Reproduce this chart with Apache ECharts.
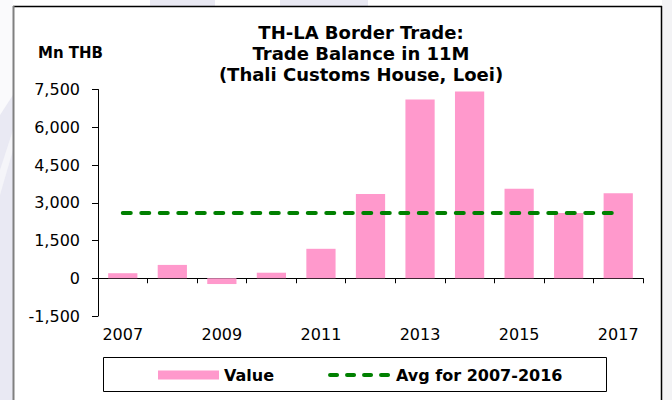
<!DOCTYPE html>
<html>
<head>
<meta charset="utf-8">
<script src="https://cdn.jsdelivr.net/npm/echarts@6/dist/echarts.min.js"></script>
<style>
  html, body { margin: 0; padding: 0; background: #ffffff; }
  #chart { width: 672px; height: 400px; }
</style>
</head>
<body>
<div id="chart"></div>
<script>
// Years on the category axis
const years = ['2007', '2008', '2009', '2010', '2011', '2012', '2013', '2014', '2015', '2016', '2017'];
// Trade balance, Mn THB
const tradeBalance = [200, 530, -230, 220, 1170, 3350, 7100, 7420, 3560, 2590, 3380];
// Average for 2007-2016, drawn flat across every year
const avgLevel = [2590, 2590, 2590, 2590, 2590, 2590, 2590, 2590, 2590, 2590, 2590];
// Value axis range and step
const yMin = -1500;
const yMax = 7500;
const yStep = 1500;

const titleLines = ['TH-LA Border Trade:', 'Trade Balance in 11M', '(Thali Customs House, Loei)'];
const unitLabel = 'Mn THB';
const seriesNames = ['Value', 'Avg for 2007-2016'];

const FONT = "'DejaVu Sans', 'Liberation Sans', Arial, sans-serif";

const chart = echarts.init(document.getElementById('chart'), null, { renderer: 'svg' });

chart.setOption({
  animation: false,
  backgroundColor: '#ffffff',
  textStyle: { fontFamily: FONT, color: '#000000' },
  grid: { left: 98, right: 29, top: 89.5, bottom: 84, containLabel: false },
  xAxis: {
    type: 'category',
    data: years,
    boundaryGap: true,
    axisLine: { show: true, onZero: true, lineStyle: { color: '#000000', width: 1 } },
    axisTick: { show: true, interval: 0, length: 5, inside: false, lineStyle: { color: '#000000' } },
    axisLabel: {
      interval: 1,
      margin: 10,
      fontSize: 16,
      fontFamily: FONT,
      color: '#000000'
    },
    splitLine: { show: false }
  },
  yAxis: {
    type: 'value',
    min: yMin,
    max: yMax,
    interval: yStep,
    axisLine: { show: true, lineStyle: { color: '#000000', width: 1 } },
    axisTick: { show: true, length: 6, lineStyle: { color: '#000000' } },
    axisLabel: {
      margin: 18,
      fontSize: 16,
      fontFamily: FONT,
      color: '#000000',
      formatter: v => v.toLocaleString('en-US')
    },
    splitLine: { show: false }
  },
  legend: {
    left: 158,
    top: 367,
    padding: 0,
    itemWidth: 61,
    itemHeight: 9,
    itemGap: 54,
    textStyle: { fontSize: 16, fontWeight: 'bold', fontFamily: FONT, color: '#000000' },
    data: [
      { name: seriesNames[0], icon: 'rect' },
      {
        name: seriesNames[1],
        itemStyle: { color: 'rgba(0,0,0,0)', borderWidth: 0 },
        lineStyle: { color: '#008000', width: 4, type: [7, 10], cap: 'round' }
      }
    ]
  },
  series: [
    {
      name: seriesNames[0],
      type: 'bar',
      data: tradeBalance,
      barWidth: '59%',
      itemStyle: { color: '#ff99cc' }
    },
    {
      name: seriesNames[1],
      type: 'line',
      data: avgLevel,
      symbol: 'none',
      lineStyle: { color: '#008000', width: 4, type: [8, 10.5], cap: 'round' },
      itemStyle: { color: '#008000' },
      z: 5
    }
  ],
  graphic: [
    // slide background around the chart frame
    { type: 'rect', silent: true, z: -10, shape: { x: 0, y: 0, width: 13, height: 400 }, style: { fill: '#e9e9f3' } },
    { type: 'polygon', silent: true, z: -9, shape: { points: [[0, 0], [13, 0], [13, 95], [0, 115]] }, style: { fill: '#fafafc' } },
    { type: 'polygon', silent: true, z: -9, shape: { points: [[0, 170], [13, 130], [13, 150], [0, 195]] }, style: { fill: '#f5f5f9' } },
    { type: 'rect', silent: true, z: -10, shape: { x: 150, y: 0, width: 65, height: 6 }, style: { fill: '#e9e9f3' } },
    { type: 'rect', silent: true, z: -10, shape: { x: 280, y: 0, width: 88, height: 6 }, style: { fill: '#e9e9f3' } },
    { type: 'rect', silent: true, z: -10, shape: { x: 662, y: 0, width: 10, height: 400 }, style: { fill: '#f3f3f5' } },
    // chart frame
    { type: 'line', silent: true, shape: { x1: 13, y1: 6.5, x2: 662, y2: 6.5 }, style: { stroke: '#000000', lineWidth: 1.5 } },
    { type: 'line', silent: true, shape: { x1: 661.5, y1: 6, x2: 661.5, y2: 400 }, style: { stroke: '#000000', lineWidth: 1.5 } },
    { type: 'line', silent: true, shape: { x1: 13.5, y1: 6, x2: 13.5, y2: 400 }, style: { stroke: '#808080', lineWidth: 2 } },
    // legend box
    { type: 'rect', silent: true, shape: { x: 103.5, y: 357.5, width: 503, height: 34 }, style: { fill: 'none', stroke: '#000000', lineWidth: 1 } },
    // title
    {
      type: 'text', silent: true, x: 361, y: 22,
      style: {
        text: titleLines.join('\n'),
        font: "bold 18px " + FONT,
        lineHeight: 21,
        textAlign: 'center',
        textVerticalAlign: 'top',
        fill: '#000000'
      }
    },
    // unit label
    {
      type: 'text', silent: true, x: 38, y: 53,
      style: {
        text: unitLabel,
        font: "bold 15px " + FONT,
        textAlign: 'left',
        textVerticalAlign: 'middle',
        fill: '#000000'
      }
    }
  ]
});
</script>
</body>
</html>
